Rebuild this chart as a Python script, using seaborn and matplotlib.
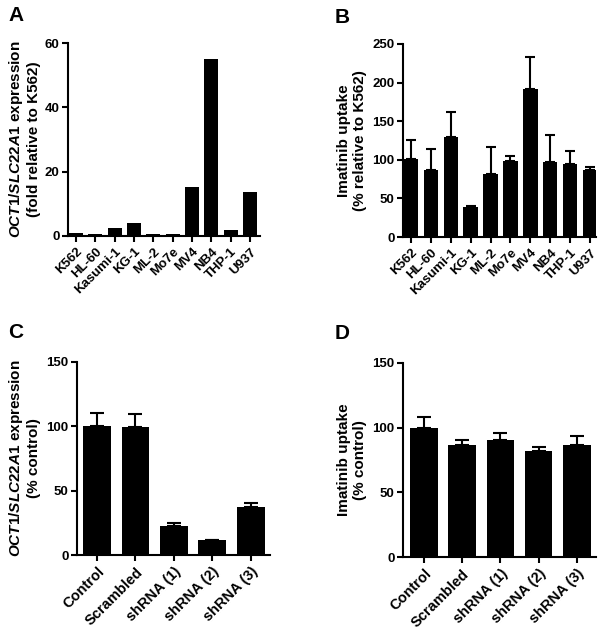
import numpy as np
import pandas as pd
import seaborn as sns
from matplotlib import pyplot as plt

# panel A / B: cell lines
cell_lines = ['K562', 'HL-60', 'Kasumi-1', 'KG-1', 'ML-2', 'Mo7e', 'MV4', 'NB4', 'THP-1', 'U937']
oct1_fold = [1.0, 0.7, 2.6, 4.0, 0.5, 0.5, 15.2, 55.0, 1.8, 13.8]
uptake_rel = [100.8, 87.4, 128.9, 39.0, 81.0, 99.0, 191.6, 97.0, 94.0, 86.5]
uptake_rel_err = [24.6, 26.3, 33.1, 1.0, 35.0, 6.0, 42.0, 35.0, 18.0, 3.9]

# panel C / D: knockdown
conditions = ['Control', 'Scrambled', 'shRNA (1)', 'shRNA (2)', 'shRNA (3)']
oct1_pct = [100.6, 99.8, 22.2, 11.4, 37.0]
oct1_pct_err = [9.4, 9.6, 2.4, 0.5, 3.6]
uptake_pct = [99.8, 86.4, 90.5, 82.0, 86.4]
uptake_pct_err = [8.2, 4.4, 5.7, 3.3, 7.0]

sns.set_theme(style='ticks')
plt.rcParams['font.family'] = ['Liberation Sans', 'DejaVu Sans']
plt.rcParams['font.weight'] = 'bold'
plt.rcParams['axes.labelweight'] = 'bold'
plt.rcParams['mathtext.fontset'] = 'custom'
plt.rcParams['mathtext.it'] = 'Liberation Sans:italic:bold'
plt.rcParams['mathtext.rm'] = 'Liberation Sans:bold'
for key in ['text.color', 'axes.labelcolor', 'xtick.color', 'ytick.color']:
    plt.rcParams[key] = 'black'

fig = plt.figure(figsize=(6.03, 6.34), dpi=100)
W, H = 603, 634


def add_axes(l, r, t, b):
    return fig.add_axes([l / W, 1 - b / H, (r - l) / W, (b - t) / H])


def bar_panel(ax, labels, values, errs, ylim, yticks, ylabel, xlim, capsize,
              pad=4, xsize=9.5):
    df = pd.DataFrame({'label': labels, 'value': values})
    sns.barplot(data=df, x='label', y='value', color='black', saturation=1,
                width=0.72, errorbar=None, ax=ax, zorder=3,
                edgecolor='black', linewidth=0)
    if errs is not None:
        ax.errorbar(np.arange(len(values)), values, yerr=[np.zeros(len(errs)), errs],
                    fmt='none', ecolor='black', elinewidth=1.5, capsize=capsize,
                    capthick=1.5, zorder=2)
    ax.set_ylim(*ylim)
    ax.set_yticks(yticks)
    ax.set_xlim(*xlim)
    ax.set_xlabel('')
    ax.set_ylabel(ylabel, fontsize=11, linespacing=1.15, labelpad=pad)
    sns.despine(ax=ax)
    for s in ['left', 'bottom']:
        ax.spines[s].set_linewidth(1.5)
        ax.spines[s].set_color('black')
        ax.spines[s].set_zorder(5)
    ax.tick_params(axis='both', direction='out', length=4, width=1.5,
                   labelsize=9.5, color='black', pad=2)
    ax.tick_params(axis='x', labelsize=xsize, pad=3)
    plt.setp(ax.get_xticklabels(), rotation=45, ha='right',
             rotation_mode='anchor', fontweight='bold')
    plt.setp(ax.get_yticklabels(), fontweight='bold')


axA = add_axes(68, 260, 43, 236)
bar_panel(axA, cell_lines, oct1_fold, None, (0, 60), [0, 20, 40, 60],
          '$\\mathit{OCT1/SLC22A1}$ expression\n(fold relative to K562)',
          (-0.42, 9.52), 3.5, pad=3)

axB = add_axes(403, 596, 44, 237)
bar_panel(axB, cell_lines, uptake_rel, uptake_rel_err, (0, 250),
          [0, 50, 100, 150, 200, 250],
          'Imatinib uptake\n(% relative to K562)', (-0.4, 9.3), 3.3)

axC = add_axes(77, 270, 362, 555)
bar_panel(axC, conditions, oct1_pct, oct1_pct_err, (0, 150), [0, 50, 100, 150],
          '$\\mathit{OCT1/SLC22A1}$ expression\n(% control)', (-0.52, 4.5), 5.3,
          xsize=10.5)

axD = add_axes(403, 596, 363, 557)
bar_panel(axD, conditions, uptake_pct, uptake_pct_err, (0, 150), [0, 50, 100, 150],
          'Imatinib uptake\n(% control)', (-0.55, 4.5), 5.0, xsize=10.5)

for letter, x, y in [('A', 8, 6), ('B', 335, 8), ('C', 8, 323), ('D', 335, 324)]:
    fig.text(x / W, 1 - y / H, letter, fontsize=15, fontweight='bold',
             ha='left', va='top')

fig.savefig('out.png', dpi=100)
